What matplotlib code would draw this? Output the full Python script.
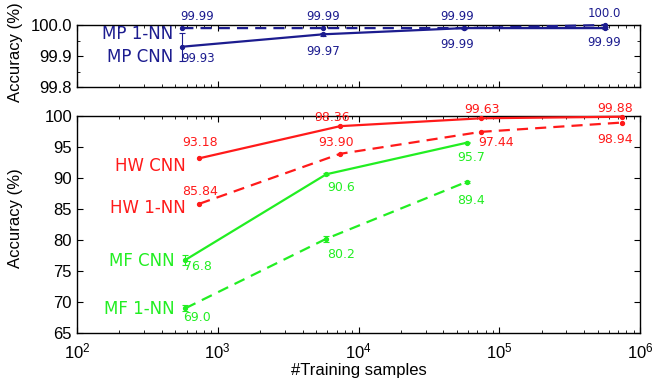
import matplotlib
matplotlib.use("Agg")
import matplotlib.pyplot as plt
from matplotlib.ticker import LogLocator, NullFormatter, MultipleLocator, FormatStrFormatter

# ---- data ----
mp_n = [560, 5600, 56000, 560000]
mp_cnn = [99.93, 99.97, 99.99, 99.99]
mp_cnn_err = [0.045, 0.004, 0.003, 0.003]
mp_nn = [99.99, 99.99, 99.99, 100.0]
mp_cnn_lbl = ["99.93", "99.97", "99.99", "99.99"]
mp_nn_lbl = ["99.99", "99.99", "99.99", "100.0"]

hw_n = [740, 7400, 74000, 740000]
hw_cnn = [93.18, 98.36, 99.63, 99.88]
hw_nn = [85.84, 93.90, 97.44, 98.94]
hw_cnn_lbl = ["93.18", "98.36", "99.63", "99.88"]
hw_nn_lbl = ["85.84", "93.90", "97.44", "98.94"]

mf_n = [590, 5900, 59000]
mf_cnn = [76.8, 90.6, 95.7]
mf_cnn_err = [0.8, 0.15, 0.1]
mf_nn = [69.0, 80.2, 89.4]
mf_nn_err = [0.45, 0.45, 0.15]
mf_cnn_lbl = ["76.8", "90.6", "95.7"]
mf_nn_lbl = ["69.0", "80.2", "89.4"]

BLUE = "#1c1c8f"
RED = "#ff1a1a"
GREEN = "#22ee22"

plt.rcParams['font.family'] = ['Liberation Sans', 'DejaVu Sans']

fig = plt.figure(figsize=(6.54, 3.86), dpi=100)
ax1 = fig.add_axes([0.1177, 0.7746, 0.861, 0.1606])
ax2 = fig.add_axes([0.1177, 0.1373, 0.861, 0.5622])

PX = 0.72  # points per pixel
DASH = (0, (5, 3.2))
ann_font = 'DejaVu Sans'


def style(ax):
    ax.set_xscale('log')
    ax.set_xlim(1e2, 1e6)
    ax.tick_params(which='both', direction='in', top=True, right=True, labelsize=12)
    ax.tick_params(which='major', length=4)
    ax.tick_params(which='minor', length=2)
    ax.tick_params(axis='x', pad=6)
    ax.xaxis.set_major_locator(LogLocator(base=10, numticks=10))
    ax.xaxis.set_minor_locator(LogLocator(base=10, subs=range(2, 10), numticks=10))
    ax.xaxis.set_minor_formatter(NullFormatter())
    for s in ax.spines.values():
        s.set_linewidth(1.0)


def series(ax, x, y, err, color, ls):
    ax.errorbar(x, y, yerr=err, color=color, ls=ls, lw=1.6, marker='o', ms=2.8,
                capsize=2, elinewidth=0.8, capthick=0.8, zorder=3)


def labels(ax, x, y, texts, offs, color, size, ha='center'):
    for xi, yi, t, (dx, dy) in zip(x, y, texts, offs):
        ax.annotate(t, (xi, yi), xytext=(dx * PX, dy * PX), textcoords='offset points',
                    ha=ha, va='center', color=color, fontsize=size, family=ann_font)


# ---- top panel ----
style(ax1)
ax1.set_ylim(99.8, 100.0)
ax1.yaxis.set_major_locator(MultipleLocator(0.1))
ax1.yaxis.set_minor_locator(MultipleLocator(0.05))
ax1.yaxis.set_major_formatter(FormatStrFormatter('%.1f'))
ax1.tick_params(axis='x', labelbottom=False)
series(ax1, mp_n, mp_nn, None, BLUE, DASH)
series(ax1, mp_n, mp_cnn, mp_cnn_err, BLUE, '-')
for a in ax1.lines + ax1.collections:
    a.set_clip_on(False)
labels(ax1, mp_n, mp_nn, mp_nn_lbl, [(15, 12), (0, 12), (-7, 12), (0, 12)], BLUE, 8.5)
labels(ax1, mp_n, mp_cnn, mp_cnn_lbl, [(16, -12), (0, -17), (-7, -16), (0, -14)], BLUE, 8.5)
ax1.annotate("MP 1-NN", (mp_n[0], mp_nn[0]), xytext=(-9 * PX, -6 * PX), textcoords='offset points',
             ha='right', va='center', color=BLUE, fontsize=12, family=ann_font)
ax1.annotate("MP CNN", (mp_n[0], mp_cnn[0]), xytext=(-9 * PX, -10 * PX), textcoords='offset points',
             ha='right', va='center', color=BLUE, fontsize=12, family=ann_font)
ax1.set_ylabel("Accuracy (%)", fontsize=12)

# ---- bottom panel ----
style(ax2)
ax2.set_ylim(65, 100)
ax2.yaxis.set_major_locator(MultipleLocator(5))
series(ax2, hw_n, hw_cnn, None, RED, '-')
series(ax2, hw_n, hw_nn, None, RED, DASH)
series(ax2, mf_n, mf_cnn, mf_cnn_err, GREEN, '-')
series(ax2, mf_n, mf_nn, mf_nn_err, GREEN, DASH)
for a in ax2.lines + ax2.collections:
    a.set_clip_on(False)

labels(ax2, hw_n, hw_cnn, hw_cnn_lbl, [(1, 16), (-8, 9), (1, 9), (-7, 8)], RED, 9)
labels(ax2, hw_n, hw_nn, hw_nn_lbl, [(1, 12), (-4, 11), (15, -11), (-7, -17)], RED, 9)
labels(ax2, mf_n, mf_cnn, mf_cnn_lbl, [(12, -7), (15, -13), (4, -15)], GREEN, 9)
labels(ax2, mf_n, mf_nn, mf_nn_lbl, [(12, -9), (15, -16), (4, -19)], GREEN, 9)

for txt, x0, y0, dx, dy, c in [("HW CNN", hw_n[0], hw_cnn[0], -14, -8, RED),
                               ("HW 1-NN", hw_n[0], hw_nn[0], -14, -4, RED),
                               ("MF CNN", mf_n[0], mf_cnn[0], -11, -1, GREEN),
                               ("MF 1-NN", mf_n[0], mf_nn[0], -11, -1, GREEN)]:
    ax2.annotate(txt, (x0, y0), xytext=(dx * PX, dy * PX), textcoords='offset points',
                 ha='right', va='center', color=c, fontsize=12, family=ann_font)

ax2.set_ylabel("Accuracy (%)", fontsize=12)
ax2.set_xlabel("#Training samples", fontsize=12, labelpad=1)

ax1.yaxis.set_label_coords(-0.096, 0.565)
ax2.yaxis.set_label_coords(-0.096, 0.53)

fig.savefig("out.png", dpi=100)
